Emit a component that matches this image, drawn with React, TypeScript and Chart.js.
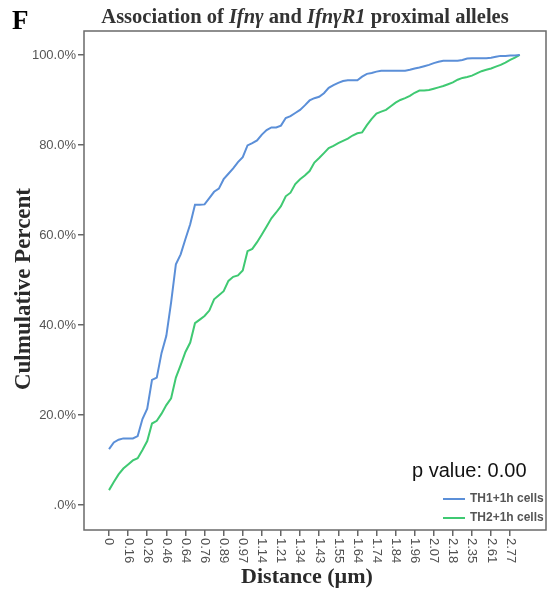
import React, { useEffect, useRef } from 'react';
import Chart from 'chart.js/auto';

// X axis tick labels (Distance, µm), one labelled tick every POINTS_PER_TICK categories
const tickLabels = ['0', '0.16', '0.26', '0.46', '0.64', '0.76', '0.89', '0.97', '1.14', '1.21', '1.34', '1.43', '1.55', '1.64', '1.74', '1.84', '1.96', '2.07', '2.18', '2.35', '2.61', '2.77'];
const POINTS_PER_TICK = 4;

// Cumulative percent, TH1+1h cells
const th1Values = [
  12.4, 13.9, 14.5, 14.8, 14.8, 14.8, 15.3, 19.1, 21.4, 27.8,
  28.3, 33.8, 37.6, 45.0, 53.5, 55.7, 59.1, 62.4, 66.7, 66.7,
  66.8, 68.2, 69.6, 70.3, 72.4, 73.6, 74.8, 76.2, 77.3, 79.9,
  80.4, 81.0, 82.3, 83.3, 83.9, 83.9, 84.3, 86.0, 86.4, 87.1,
  87.8, 88.8, 89.9, 90.4, 90.7, 91.5, 92.7, 93.3, 93.8, 94.2,
  94.4, 94.4, 94.4, 95.2, 95.8, 96.0, 96.3, 96.5, 96.5, 96.5,
  96.5, 96.5, 96.5, 96.7, 97.0, 97.2, 97.5, 97.8, 98.2, 98.5,
  98.7, 98.7, 98.7, 98.7, 98.9, 99.2, 99.3, 99.3, 99.3, 99.3,
  99.4, 99.6, 99.8, 99.8, 99.9, 99.9, 100.0,
];

// Cumulative percent, TH2+1h cells
const th2Values = [
  3.3, 5.1, 6.8, 8.1, 9.0, 9.9, 10.4, 12.2, 14.2, 18.1,
  18.7, 20.3, 22.2, 23.7, 28.3, 31.1, 34.0, 36.1, 40.4, 41.2,
  42.0, 43.2, 45.7, 46.6, 47.5, 49.8, 50.7, 51.0, 52.1, 56.4,
  56.9, 58.4, 60.1, 61.9, 63.7, 65.0, 66.4, 68.6, 69.4, 71.3,
  72.4, 73.2, 74.2, 76.1, 77.1, 78.2, 79.3, 79.8, 80.4, 80.9,
  81.4, 82.1, 82.6, 82.8, 84.4, 85.8, 87.0, 87.4, 87.8, 88.6,
  89.4, 90.0, 90.4, 90.9, 91.6, 92.1, 92.1, 92.2, 92.5, 92.8,
  93.1, 93.5, 93.9, 94.5, 94.9, 95.1, 95.4, 95.9, 96.4, 96.7,
  97.0, 97.4, 97.8, 98.3, 98.9, 99.4, 100.0,
];

const yTicks = [0, 20, 40, 60, 80, 100];
const seriesNames = ['TH1+1h cells', 'TH2+1h cells'];
const seriesColors = ['#5b8fd8', '#3fc972'];
const pValueText = 'p value: 0.00';

const SERIF = '"Liberation Serif", "Times New Roman", serif';
const SANS = '"Liberation Sans", Arial, sans-serif';

export default function App() {
  const ref = useRef<HTMLCanvasElement>(null);

  useEffect(() => {
    const canvas = ref.current;
    if (!canvas) return;

    const decor = {
      id: 'decor',
      afterDraw(chart: any) {
        const ctx = chart.ctx as CanvasRenderingContext2D;
        const a = chart.chartArea;
        ctx.save();

        // frame
        ctx.strokeStyle = '#6a6a6a';
        ctx.lineWidth = 1.5;
        ctx.strokeRect(a.left, a.top, a.right - a.left, a.bottom - a.top);

        // rotated x tick labels (reading top to bottom)
        const xs = chart.scales.x;
        ctx.fillStyle = '#505050';
        ctx.font = `13px ${SANS}`;
        ctx.textAlign = 'left';
        ctx.textBaseline = 'middle';
        xs.ticks.forEach((t: any) => {
          const j = Math.round(t.value / POINTS_PER_TICK);
          const label = tickLabels[j];
          if (label === undefined) return;
          const px = xs.getPixelForValue(t.value);
          ctx.save();
          ctx.translate(px, a.bottom + 8);
          ctx.rotate(Math.PI / 2);
          ctx.fillText(label, 0, 0);
          ctx.restore();
        });

        // panel letter
        ctx.fillStyle = '#000';
        ctx.font = `bold 27px ${SERIF}`;
        ctx.textAlign = 'left';
        ctx.textBaseline = 'alphabetic';
        ctx.fillText('F', 12, 29);

        // title with italic gene names
        const segs = [
          { t: 'Association of ', it: false },
          { t: 'Ifnγ', it: true },
          { t: ' and ', it: false },
          { t: 'IfnγR1', it: true },
          { t: ' proximal alleles', it: false },
        ];
        const fontFor = (it: boolean) => `${it ? 'italic ' : ''}bold 20.5px ${SERIF}`;
        let total = 0;
        segs.forEach((s) => { ctx.font = fontFor(s.it); total += ctx.measureText(s.t).width; });
        let tx = 305 - total / 2;
        ctx.fillStyle = '#333';
        segs.forEach((s) => {
          ctx.font = fontFor(s.it);
          ctx.fillText(s.t, tx, 23);
          tx += ctx.measureText(s.t).width;
        });

        // axis titles
        ctx.fillStyle = '#2a2a2a';
        ctx.font = `bold 22px ${SERIF}`;
        ctx.textAlign = 'center';
        ctx.fillText('Distance (µm)', 307, 583);

        ctx.save();
        ctx.translate(24, 289);
        ctx.rotate(-Math.PI / 2);
        ctx.font = `bold 23px ${SERIF}`;
        ctx.textBaseline = 'middle';
        ctx.fillText('Culmulative Percent', 0, 0);
        ctx.restore();

        // p value
        ctx.fillStyle = '#111';
        ctx.font = `20px ${SANS}`;
        ctx.textAlign = 'left';
        ctx.textBaseline = 'alphabetic';
        ctx.fillText(pValueText, 412, 477);

        // legend
        const ly = [499, 518];
        seriesNames.forEach((name, k) => {
          ctx.strokeStyle = seriesColors[k];
          ctx.lineWidth = 2;
          ctx.beginPath();
          ctx.moveTo(443, ly[k]);
          ctx.lineTo(465, ly[k]);
          ctx.stroke();
          ctx.fillStyle = '#555';
          ctx.font = `bold 12px ${SANS}`;
          ctx.textBaseline = 'middle';
          ctx.fillText(name, 470, ly[k]);
        });

        ctx.restore();
      },
    };

    const toPoints = (vals: number[]) => vals.map((v, i) => ({ x: i, y: v }));

    const chart = new Chart(canvas, {
      type: 'line',
      data: {
        datasets: [
          { label: seriesNames[0], data: toPoints(th1Values), borderColor: seriesColors[0], borderWidth: 2, pointRadius: 0, tension: 0, fill: false },
          { label: seriesNames[1], data: toPoints(th2Values), borderColor: seriesColors[1], borderWidth: 2, pointRadius: 0, tension: 0, fill: false },
        ],
      },
      options: {
        responsive: false,
        animation: false,
        devicePixelRatio: 1,
        layout: { padding: { top: 31, right: 4, left: 0, bottom: 0 } },
        plugins: { legend: { display: false }, title: { display: false }, tooltip: { enabled: false } },
        scales: {
          x: {
            type: 'linear',
            min: -5.24,
            max: 91.5,
            afterBuildTicks: (s: any) => {
              s.ticks = tickLabels.map((_, j) => ({ value: j * POINTS_PER_TICK }));
            },
            afterFit: (s: any) => { s.height = 65; },
            grid: { display: true, drawOnChartArea: false, drawTicks: true, tickLength: 6, color: '#666', lineWidth: 1.5 },
            border: { display: false },
            ticks: { display: false },
          },
          y: {
            type: 'linear',
            min: -5.56,
            max: 105.33,
            afterBuildTicks: (s: any) => {
              s.ticks = yTicks.map((v) => ({ value: v }));
            },
            afterFit: (s: any) => { s.width = 84; },
            grid: { display: true, drawOnChartArea: false, drawTicks: true, tickLength: 6, color: '#666', lineWidth: 1.5 },
            border: { display: false },
            ticks: {
              padding: 2,
              color: '#555',
              font: { family: SANS, size: 13 },
              callback: (v: any) => (Number(v) === 0 ? '.0%' : `${Number(v).toFixed(1)}%`),
            },
          },
        },
      },
      plugins: [decor],
    });

    return () => chart.destroy();
  }, []);

  return (
    <div style={{ position: 'absolute', left: 0, top: 0, width: 550, height: 595, background: '#fff' }}>
      <canvas ref={ref} width={550} height={595} style={{ display: 'block' }} />
    </div>
  );
}
